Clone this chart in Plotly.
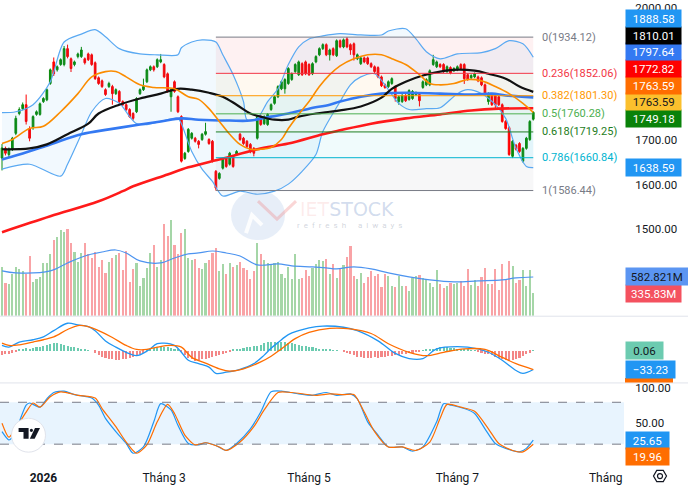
import math
import plotly.graph_objects as go

# ---------------- data ----------------
opens = [1660,1682,1668,1680,1716,1761,1772,1781,1727,1729,
         1759,1759,1788,1792,1829,1878,1860,1872,1872,1908,
         1885,1872,1890,1890,1885,1896,1894,1876,1842,1835,
         1815,1822,1822,1806,1811,1788,1781,1770,1761,1765,
         1806,1815,1833,1860,1867,1867,1878,1872,1851,1799,
         1833,1799,1754,1659,1675,1705,1705,1698,1702,1714,
         1702,1698,1630,1614,1637,1659,1646,1664,1668,1714,
         1705,1698,1691,1682,1705,1754,1738,1736,1770,1784,
         1799,1817,1817,1829,1838,1856,1849,1874,1878,1872,
         1851,1878,1894,1908,1917,1894,1908,1892,1926,1912,
         1930,1917,1919,1885,1874,1887,1887,1874,1867,1865,
         1844,1826,1822,1829,1822,1788,1788,1802,1793,1795,
         1804,1804,1820,1826,1826,1872,1867,1872,1872,1856,
         1865,1858,1860,1872,1872,1849,1842,1844,1844,1842,
         1826,1788,1804,1802,1799,1781,1743,1729,1664,1689,
         1693,1653,1682,1702,1748]
highs = [1692,1686,1684,1708,1756,1775,1786,1804,1732,1757,
         1768,1786,1798,1818,1863,1888,1870,1886,1914,1917,
         1888,1881,1899,1912,1888,1899,1897,1879,1845,1838,
         1818,1833,1826,1818,1814,1791,1784,1773,1764,1798,
         1818,1840,1863,1870,1870,1886,1896,1875,1854,1818,
         1836,1802,1757,1674,1728,1719,1708,1701,1717,1740,
         1705,1701,1633,1628,1660,1662,1674,1667,1678,1717,
         1708,1701,1694,1685,1757,1757,1757,1762,1784,1802,
         1825,1836,1841,1866,1854,1875,1881,1877,1881,1875,
         1877,1893,1911,1920,1920,1908,1911,1929,1929,1931,
         1934.12,1920,1922,1897,1890,1890,1890,1877,1870,1868,
         1847,1829,1836,1843,1825,1802,1805,1805,1816,1814,
         1811,1807,1836,1841,1861,1894,1881,1875,1875,1870,
         1868,1866,1870,1875,1875,1852,1850,1854,1847,1845,
         1829,1809,1807,1805,1802,1784,1746,1732,1701,1692,
         1696,1685,1708,1746,1766]
lows = [1632,1666,1662,1676,1712,1757,1768,1736,1698,1724,
        1756,1756,1785,1789,1826,1846,1856,1869,1868,1886,
        1855,1868,1886,1887,1872,1880,1869,1837,1826,1819,
        1801,1819,1781,1803,1785,1778,1767,1751,1745,1762,
        1803,1812,1830,1857,1856,1864,1875,1841,1808,1765,
        1808,1762,1650,1656,1672,1702,1695,1682,1699,1711,
        1690,1650,1586.44,1611,1634,1638,1643,1638,1665,1699,
        1690,1683,1671,1664,1702,1733,1735,1733,1767,1781,
        1796,1814,1806,1826,1835,1853,1846,1846,1848,1846,
        1848,1875,1891,1905,1891,1881,1891,1889,1909,1909,
        1909,1894,1881,1882,1871,1875,1871,1864,1853,1841,
        1821,1817,1819,1826,1788,1781,1785,1787,1790,1792,
        1801,1777,1817,1823,1823,1869,1864,1864,1853,1853,
        1850,1855,1857,1860,1828,1835,1839,1841,1832,1823,
        1801,1781,1778,1771,1778,1740,1724,1665,1660,1677,
        1672,1650,1679,1699,1745]
closes = [1683,1671,1680,1705,1750,1770,1781,1743,1705,1754,
          1765,1783,1795,1815,1860,1851,1867,1883,1908,1890,
          1863,1878,1896,1905,1876,1883,1872,1840,1829,1822,
          1804,1829,1806,1815,1788,1781,1770,1754,1750,1795,
          1815,1822,1860,1867,1860,1883,1883,1844,1811,1815,
          1811,1765,1653,1671,1725,1716,1698,1691,1714,1720,
          1693,1653,1592,1625,1657,1641,1671,1641,1675,1702,
          1693,1686,1675,1671,1754,1736,1754,1759,1781,1799,
          1822,1833,1838,1863,1851,1872,1878,1849,1851,1849,
          1874,1890,1908,1917,1894,1905,1894,1926,1912,1928,
          1912,1905,1894,1894,1887,1878,1874,1867,1856,1844,
          1824,1820,1833,1840,1795,1799,1802,1790,1813,1811,
          1808,1790,1833,1838,1858,1883,1878,1867,1856,1867,
          1853,1863,1867,1863,1840,1838,1847,1851,1835,1826,
          1804,1806,1781,1781,1781,1743,1727,1668,1698,1680,
          1675,1682,1705,1743,1763.59]
volumes_m = [735,495,480,630,735,705,675,630,900,510,
             555,585,795,795,930,1140,1185,1290,1260,1305,
             1095,960,810,945,1095,930,870,960,735,840,
             645,810,870,915,945,690,975,510,705,795,
             450,570,720,945,1065,735,840,1380,1200,1440,
             1065,930,1245,1305,870,840,855,720,705,795,
             840,945,1020,675,780,630,795,735,765,810,
             720,690,555,675,1095,930,840,795,780,795,
             810,630,570,735,555,930,555,570,690,600,
             720,780,840,825,855,630,780,570,705,765,
             885,1050,600,555,645,495,585,675,600,630,
             435,630,600,450,435,600,450,450,375,570,
             600,615,570,555,495,435,690,480,420,450,
             495,480,495,525,450,705,465,540,450,585,
             720,480,480,705,390,780,540,825,750,495,
             540,690,450,690,335.83]
macd_hist = [-7,-6,-5,-3,-1,3,4,5,4,5,
             6,7,8,10,12,13,13,12,11,9,
             7,6,5,4,2,1,0,-3,-7,-10,
             -12,-14,-15,-16,-16,-15,-15,-13,-10,-7,
             -5,-3,2,4,5,6,7,7,6,5,
             4,3,-2,-8,-12,-15,-17,-16,-15,-14,
             -12,-10,-9,-8,-6,-4,-2,2,3,4,
             5,6,7,8,9,11,13,15,16,16,
             16,15,15,14,13,12,10,9,8,7,
             6,5,4,3,3,2,1,1,0,-2,
             -4,-6,-8,-10,-11,-12,-12,-12,-11,-12,
             -11,-10,-9,-9,-8,-7,-6,-5,-4,-3,
             -2,-1,1,2,3,4,5,6,6,6,
             5,5,4,3,3,2,1,0.5,-1,-3,
             -5,-6,-8,-10,-12,-14,-16,-17,-16,-14,
             -12,-9,-6,-3,0.06]

# indicator lines read at sparse bars (bar index, value)
bb_upper_x = [0,4,9,14,18,23,27,30,34,40,45,51,52,55,58,62,64,67,70,71,74,77,80,83,86,89,93,98,104,110,112,117,120,123,127,132,139,143,147,151,154]
bb_upper_y = [1763,1765,1781,1833,1923,1941,1951,1935,1908,1896,1894,1894,1910,1923,1928,1923,1894,1849,1788,1747,1750,1788,1817,1872,1912,1930,1937,1942,1939,1939,1948,1953,1930,1901,1885,1896,1899,1908,1926,1919,1888.58]
bb_lower_x = [0,8,17,19,23,26,30,34,37,39,42,46,51,52,55,58,61,64,69,74,79,83,87,91,93,98,101,104,108,112,115,118,123,127,132,135,139,143,146,149,152,154]
bb_lower_y = [1635,1646,1619,1646,1714,1765,1795,1784,1754,1738,1736,1743,1750,1738,1675,1635,1607,1574,1585,1578,1585,1601,1630,1668,1720,1788,1826,1844,1851,1815,1784,1770,1772,1774,1806,1815,1806,1781,1750,1682,1641,1638.59]
bb_basis_x = [0,3,8,12,17,22,26,30,33,36,40,44,50,54,57,60,63,66,69,72,75,78,81,83,86,89,92,95,98,102,106,110,113,117,121,124,127,131,135,139,143,147,151,154]
bb_basis_y = [1693,1702,1727,1732,1765,1806,1844,1856,1856,1844,1826,1820,1817,1799,1793,1772,1743,1714,1691,1680,1680,1684,1702,1727,1759,1788,1822,1849,1869,1885,1894,1894,1885,1872,1849,1829,1826,1829,1838,1835,1822,1806,1784,1763.59]
ma50_x = [0,8,13,19,25,28,34,40,46,51,55,60,64,68,72,75,79,83,86,91,95,98,104,110,113,117,122,127,131,137,141,146,150,154]
ma50_y = [1680,1682,1691,1714,1738,1761,1781,1795,1806,1817,1815,1808,1799,1781,1761,1754,1747,1747,1754,1761,1765,1768,1777,1797,1817,1833,1847,1856,1860,1858,1851,1840,1822,1810.01]
ma100_x = [0,5,14,23,31,40,46,52,57,66,72,78,83,89,95,98,104,110,117,127,137,142,146,154]
ma100_y = [1657,1668,1691,1714,1725,1736,1743,1750,1747,1745,1745,1754,1761,1772,1781,1788,1799,1806,1808,1806,1804,1806,1802,1797.64]
ma200_x = [0,14,28,35,38,48,54,64,74,83,93,98,107,117,127,136,144,154]
ma200_y = [1492,1528,1562,1585,1596,1623,1639,1659,1680,1693,1714,1723,1738,1750,1759,1768,1772,1772.82]
vol_ma_x = [0,4,14,19,24,29,33,36,40,46,50,54,57,61,65,69,74,80,84,90,94,97,102,107,112,118,124,131,138,145,149,154]
vol_ma_y = [675,645,675,795,900,960,990,945,825,795,870,930,945,975,945,900,765,780,750,735,720,705,735,705,645,585,540,510,525,540,570,582.821]
macd_x = [0,2,5,9,12,15,19,22,25,27,30,33,36,39,42,45,47,50,52,54,57,60,62,65,69,73,76,78,80,83,86,89,93,99,103,109,114,118,122,126,132,138,141,145,149,151,154]
macd_y = [9,6,15,19,24,35,48,45,42,35,17,6,-3,-9,-1,12,13,9,-3,-17,-23,-29,-40,-38,-33,-23,-8,4,14,28,35,40,43,41,35,17,-5,-14,-14,3,7,3,-3,-17,-35,-40,-33.23]
signal_x = [0,2,5,9,12,15,19,22,25,28,32,36,39,42,45,49,52,55,59,63,66,70,75,78,81,85,89,95,101,107,112,118,123,128,134,140,145,149,154]
signal_y = [13,9,10,15,19,24,37,44,42,35,23,9,2,2,6,9,6,-12,-22,-32,-36,-32,-20,-10,3,21,32,39,38,30,12,-3,-9,-3,3,2,-12,-23,-33.29]
stoch_k_x = [0,2,3,5,7,8,11,13,15,18,21,26,28,30,33,36,38,41,44,46,49,51,54,57,59,62,65,68,72,75,78,81,86,90,94,97,101,103,106,109,112,116,119,122,126,128,130,134,137,140,143,146,150,152,154]
stoch_k_y = [38,26,30,52,76,79,73,85,94,96,91,86,76,57,38,21,7,16,52,78,69,47,21,19,22,18,11,21,42,66,95,96,92,90,94,90,92,85,52,33,16,16,10,16,52,78,76,71,64,42,21,14,9,14,25.65]
stoch_d_x = [0,2,4,7,9,11,14,17,22,27,29,33,36,39,42,45,48,50,53,56,59,63,65,69,73,76,80,84,91,95,99,102,105,108,112,116,120,124,127,129,133,137,141,144,148,151,154]
stoch_d_y = [50,30,43,66,79,73,88,95,90,86,71,45,23,7,19,52,77,64,33,19,22,16,11,23,45,69,94,94,90,92,91,91,66,38,16,16,11,23,57,77,73,67,42,21,11,9,19.96]

fib_ratios = [0, 0.236, 0.382, 0.5, 0.618, 0.786, 1]
month_tick_bars = [12, 47, 89, 132, 175]
month_tick_text = ["<b>2026</b>", "Tháng 3", "Tháng 5", "Tháng 7", "Tháng"]
price_ticks = [1400, 1500, 1600, 1700, 2000]   # 1800/1900 sit under the value tags
sma_last_label = "1763.59"
last_price_label = "1749.18"

# ---------------- styling / geometry ----------------
W, H = 688, 488
FONT = "Roboto, Arial, sans-serif"
TXT = "#131722"
XD = 624 / W
G_UP, R_DN = "#0a8a0a", "#ff0000"
n = len(closes)
bars = list(range(n))

def pdom(top_px, bot_px):
    return [1 - bot_px / H, 1 - top_px / H]

price_dom = pdom(0, 315)
macd_dom = pdom(316, 382)
stoch_dom = pdom(383, 462)
price_rng = [1302.8, 2013.7]
vol_rng = [0, 4725]
macd_rng = [-56, 59.5]
stoch_rng = [-5.7, 107]
x_rng = [-0.58, 180.3]

fig = go.Figure()

# Bollinger fill + lines
fig.add_trace(go.Scatter(x=bb_upper_x, y=bb_upper_y, mode="lines", line=dict(color="#5aa9f2", width=1.2, shape="spline", smoothing=0.8), hoverinfo="skip", showlegend=False))
fig.add_trace(go.Scatter(x=bb_lower_x, y=bb_lower_y, mode="lines", line=dict(color="#5aa9f2", width=1.2, shape="spline", smoothing=0.8), fill="tonexty", fillcolor="rgba(33,150,243,0.06)", hoverinfo="skip", showlegend=False))

# volume (overlay)
vol_colors = ["#a5d6a7" if c >= o else "#f9a3a6" for o, c in zip(opens, closes)]
fig.add_trace(go.Bar(x=bars, y=volumes_m, marker=dict(color=vol_colors, line=dict(width=0)), width=0.62, yaxis="y4", xaxis="x", hoverinfo="skip", showlegend=False))
fig.add_trace(go.Scatter(x=vol_ma_x, y=vol_ma_y, mode="lines", line=dict(color="#4d94f0", width=1.2, shape="spline"), yaxis="y4", xaxis="x", hoverinfo="skip", showlegend=False))

# moving averages
fig.add_trace(go.Scatter(x=ma200_x, y=ma200_y, mode="lines", line=dict(color="#ff1a1a", width=2.6, shape="spline"), hoverinfo="skip", showlegend=False))
fig.add_trace(go.Scatter(x=ma100_x, y=ma100_y, mode="lines", line=dict(color="#3479f2", width=2.6, shape="spline"), hoverinfo="skip", showlegend=False))
fig.add_trace(go.Scatter(x=ma50_x, y=ma50_y, mode="lines", line=dict(color="#111111", width=2.2, shape="spline"), hoverinfo="skip", showlegend=False))
fig.add_trace(go.Scatter(x=bb_basis_x, y=bb_basis_y, mode="lines", line=dict(color="#fb8c00", width=1.6, shape="spline"), hoverinfo="skip", showlegend=False))

# candles
fig.add_trace(go.Candlestick(x=bars, open=opens, high=highs, low=lows, close=closes,
                             increasing=dict(line=dict(color=G_UP, width=1), fillcolor=G_UP),
                             decreasing=dict(line=dict(color=R_DN, width=1), fillcolor=R_DN),
                             whiskerwidth=0, hoverinfo="skip", showlegend=False))

# MACD
hist_colors = ["#6ccbb0" if v >= 0 else "#f38787" for v in macd_hist]
fig.add_trace(go.Bar(x=bars, y=macd_hist, marker=dict(color=hist_colors, line=dict(width=0)), width=0.6, xaxis="x2", yaxis="y2", hoverinfo="skip", showlegend=False))
fig.add_trace(go.Scatter(x=macd_x, y=macd_y, mode="lines", line=dict(color="#2196f3", width=1.3, shape="spline"), xaxis="x2", yaxis="y2", hoverinfo="skip", showlegend=False))
fig.add_trace(go.Scatter(x=signal_x, y=signal_y, mode="lines", line=dict(color="#ff6d00", width=1.3, shape="spline"), xaxis="x2", yaxis="y2", hoverinfo="skip", showlegend=False))

# Stochastic
fig.add_trace(go.Scatter(x=stoch_k_x, y=stoch_k_y, mode="lines", line=dict(color="#2196f3", width=1.2, shape="spline", smoothing=0.7), xaxis="x3", yaxis="y3", hoverinfo="skip", showlegend=False))
fig.add_trace(go.Scatter(x=stoch_d_x, y=stoch_d_y, mode="lines", line=dict(color="#ff6d00", width=1.2, shape="spline", smoothing=0.7), xaxis="x3", yaxis="y3", hoverinfo="skip", showlegend=False))

shapes = []
annotations = []

# Fibonacci retracement (anchored on the lowest low and highest high)
fib_lo = min(lows)
fib_hi = max(highs)
fib_start = lows.index(fib_lo)
fib_end = n - 1
fib_colors = ["#787b86", "#f23645", "#ff9800", "#4caf50", "#1e7d22", "#00b4d0", "#787b86"]
fib_fills = ["rgba(242,54,69,0.07)", "rgba(255,152,0,0.06)", "rgba(76,175,80,0.07)",
             "rgba(76,175,80,0.06)", "rgba(0,188,212,0.06)", "rgba(120,123,134,0.06)"]
fib_prices = [fib_hi - r * (fib_hi - fib_lo) for r in fib_ratios]
for i in range(len(fib_ratios) - 1):
    shapes.append(dict(type="rect", xref="x", yref="y", x0=fib_start, x1=fib_end,
                       y0=fib_prices[i + 1], y1=fib_prices[i], fillcolor=fib_fills[i],
                       line=dict(width=0), layer="below"))
for r, p, c in zip(fib_ratios, fib_prices, fib_colors):
    shapes.append(dict(type="line", xref="x", yref="y", x0=fib_start, x1=fib_end, y0=p, y1=p,
                       line=dict(color=c, width=1)))
    shown = math.floor(p * 100 + 1e-6) / 100
    annotations.append(dict(x=fib_end + 2, y=p, xref="x", yref="y", text=f"{r:g}({shown:.2f})",
                            showarrow=False, xanchor="left", yanchor="middle",
                            font=dict(family=FONT, size=11, color=c)))

# Stochastic band and dashed levels
shapes.append(dict(type="rect", xref="paper", yref="y3", x0=0, x1=XD, y0=20, y1=80,
                   fillcolor="rgba(33,150,243,0.10)", line=dict(width=0), layer="below"))
for lv in (20, 80):
    shapes.append(dict(type="line", xref="paper", yref="y3", x0=0, x1=XD, y0=lv, y1=lv,
                       line=dict(color="#787b86", width=1, dash="dash")))

# panel separators
for py in (315.5, 382.5):
    shapes.append(dict(type="line", xref="paper", yref="paper", x0=0, x1=1, y0=1 - py / H, y1=1 - py / H,
                       line=dict(color="#e0e3eb", width=1)))

# ---- price-scale tags ----
TAG_H = 16.8 / H

def to_paper(v, rng, dom):
    return dom[0] + (v - rng[0]) / (rng[1] - rng[0]) * (dom[1] - dom[0])

def place_tags(tags, rng, dom, upward):
    prev = None
    for text, val, bg, fg in tags:
        pos = to_paper(val, rng, dom)
        if prev is not None:
            if upward and pos < prev + TAG_H:
                pos = prev + TAG_H
            if not upward and pos > prev - TAG_H:
                pos = prev - TAG_H
        prev = pos
        annotations.append(dict(x=625 / W, y=pos, xref="paper", yref="paper", text=text,
                                showarrow=False, xanchor="left", yanchor="middle",
                                width=10 + 6.2 * len(text), height=15, borderpad=1,
                                bgcolor=bg, font=dict(family=FONT, size=11.5, color=fg), align="center"))

price_tags = [
    ("1638.59", bb_lower_y[-1], "#2196f3", "white"),
    (last_price_label, float(last_price_label), "#098209", "white"),
    (sma_last_label, closes[-1], "#fbc02d", "#131722"),
    ("1763.59", bb_basis_y[-1], "#ff6d00", "white"),
    ("1772.82", ma200_y[-1], "#ff0000", "white"),
    ("1797.64", ma100_y[-1], "#3479f2", "white"),
    ("1810.01", ma50_y[-1], "#000000", "white"),
    ("1888.58", bb_upper_y[-1], "#2196f3", "white"),
]
place_tags(price_tags, price_rng, price_dom, upward=True)
vol_tags = [
    ("335.83M", volumes_m[-1], "#f4515f", "white"),
    ("582.821M", vol_ma_y[-1], "#5b95f2", "#131722"),
]
place_tags(vol_tags, vol_rng, price_dom, upward=True)
macd_tags = [
    ("0.06", macd_hist[-1], "#6ccbb0", "#131722"),
    ("\u221233.23", macd_y[-1], "#2196f3", "white"),
]
place_tags(macd_tags, macd_rng, macd_dom, upward=False)
stoch_tags = [
    ("25.65", stoch_k_y[-1], "#2196f3", "white"),
    ("19.96", stoch_d_y[-1], "#ff6d00", "white"),
]
place_tags(stoch_tags, stoch_rng, stoch_dom, upward=False)
# clipped signal tag sliver at bottom of MACD pane
shapes.append(dict(type="rect", xref="paper", yref="paper", x0=625 / W, x1=673 / W,
                   y0=1 - 382 / H, y1=1 - 377.5 / H, fillcolor="#ff6d00", line=dict(width=0)))

def ppath(pts, close=True):
    s = "M " + " L ".join(f"{x / W},{1 - y / H}" for x, y in pts)
    return s + (" Z" if close else "")

# ---- watermark ----
shapes.append(dict(type="circle", xref="paper", yref="paper", x0=231 / W, x1=285 / W,
                   y0=1 - 239 / H, y1=1 - 189 / H, fillcolor="rgba(120,160,215,0.18)", line=dict(width=0)))
shapes.append(dict(type="path", xref="paper", yref="paper",
                   path=ppath([(258, 200), (277, 218), (296, 200)], close=False),
                   line=dict(color="rgba(240,120,120,0.30)", width=3)))
shapes.append(dict(type="path", xref="paper", yref="paper",
                   path=ppath([(246, 232), (252, 214), (262, 224)], close=False),
                   line=dict(color="rgba(255,255,255,0.85)", width=4)))
annotations.append(dict(x=347 / W, y=1 - 208 / H, xref="paper", yref="paper",
                        text="<span style='color:rgba(240,130,130,0.38)'>IET</span>STOCK",
                        showarrow=False, font=dict(family="DejaVu Sans", size=19, color="rgba(140,165,210,0.40)")))
nb = "\u00a0"
annotations.append(dict(x=349 / W, y=1 - 224 / H, xref="paper", yref="paper",
                        text=(nb * 2).join("refresh") + nb * 6 + (nb * 2).join("always"),
                        showarrow=False, font=dict(family=FONT, size=8, color="rgba(140,150,170,0.40)")))

# ---- TradingView logo ----
shapes.append(dict(type="circle", xref="paper", yref="paper", x0=11.5 / W, x1=45.5 / W,
                   y0=1 - 452 / H, y1=1 - 418 / H, fillcolor="white", line=dict(color="#e0e3eb", width=1)))
shapes.append(dict(type="path", xref="paper", yref="paper",
                   path=ppath([(18.6, 427.7), (28.6, 427.7), (28.6, 438.5), (23.5, 438.5), (23.5, 431.7), (18.6, 431.7)]),
                   fillcolor="#131722", line=dict(width=0)))
shapes.append(dict(type="circle", xref="paper", yref="paper", x0=29.8 / W, x1=33 / W,
                   y0=1 - 431.7 / H, y1=1 - 428.5 / H, fillcolor="#131722", line=dict(width=0)))
shapes.append(dict(type="path", xref="paper", yref="paper",
                   path=ppath([(35, 427.7), (40, 427.7), (34.6, 438.5), (29.8, 438.5)]),
                   fillcolor="#131722", line=dict(width=0)))

# ---- gear icon ----
gx, gy, gr = 660, 476, 6.5
hexpts = [(gx + gr * math.cos(math.radians(a)), gy + gr * math.sin(math.radians(a))) for a in range(0, 360, 60)]
shapes.append(dict(type="path", xref="paper", yref="paper", path=ppath(hexpts),
                   line=dict(color="#131722", width=1.2)))
shapes.append(dict(type="circle", xref="paper", yref="paper", x0=(gx - 2.5) / W, x1=(gx + 2.5) / W,
                   y0=1 - (gy + 2.5) / H, y1=1 - (gy - 2.5) / H, line=dict(color="#131722", width=1.2)))

axis_common = dict(showgrid=False, zeroline=False, showline=False)
fig.update_layout(
    width=W, height=H, margin=dict(l=0, r=0, t=0, b=0),
    paper_bgcolor="white", plot_bgcolor="white", showlegend=False,
    font=dict(family=FONT, size=11.5, color=TXT),
    xaxis=dict(domain=[0, XD], range=x_rng, anchor="y", showticklabels=False,
               rangeslider=dict(visible=False), **axis_common),
    xaxis2=dict(domain=[0, XD], matches="x", anchor="y2", showticklabels=False, **axis_common),
    xaxis3=dict(domain=[0, XD], matches="x", anchor="y3", tickmode="array",
                tickvals=month_tick_bars, ticktext=month_tick_text, ticks="outside", ticklen=4,
                tickcolor="rgba(0,0,0,0)", tickfont=dict(family=FONT, size=12, color=TXT), **axis_common),
    yaxis=dict(domain=price_dom, range=price_rng, side="right", anchor="x", tickmode="array",
               tickvals=price_ticks, ticktext=[f"{v:.2f}" for v in price_ticks],
               ticks="outside", ticklen=8, tickcolor="rgba(0,0,0,0)",
               tickfont=dict(family=FONT, size=11.5, color=TXT), **axis_common),
    yaxis4=dict(overlaying="y", range=vol_rng, visible=False, anchor="x", side="right"),
    yaxis2=dict(domain=macd_dom, range=macd_rng, anchor="x2", side="right", showticklabels=False, **axis_common),
    yaxis3=dict(domain=stoch_dom, range=stoch_rng, anchor="x3", side="right", tickmode="array",
                tickvals=[50, 100], ticktext=["50.00", "100.00"], ticks="outside", ticklen=8,
                tickcolor="rgba(0,0,0,0)", tickfont=dict(family=FONT, size=11.5, color=TXT), **axis_common),
    shapes=shapes, annotations=annotations, bargap=0,
)

fig.write_html("out.html", config={"displayModeBar": False},
               post_script="document.body.style.margin='0px';document.body.style.overflow='hidden';")
